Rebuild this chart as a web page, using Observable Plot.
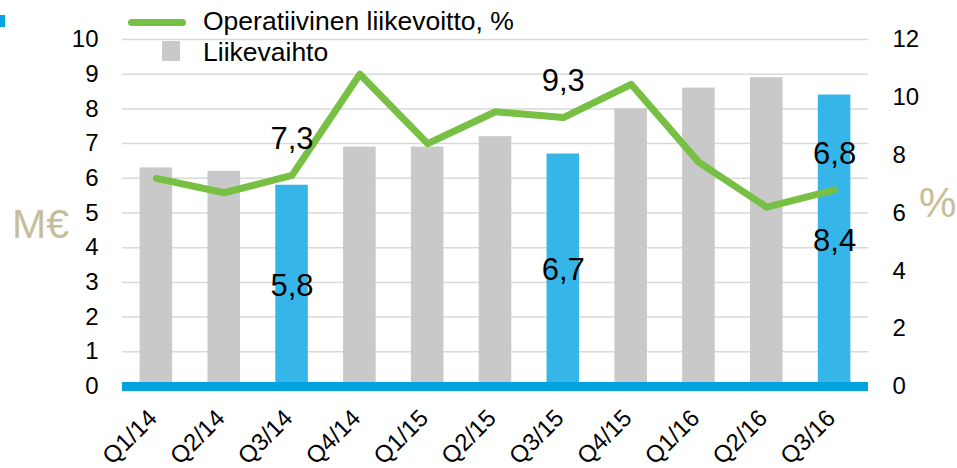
<!DOCTYPE html>
<html><head><meta charset="utf-8">
<script src="https://cdn.jsdelivr.net/npm/d3@7"></script>
<script src="https://cdn.jsdelivr.net/npm/@observablehq/plot@0.6"></script>
<style>
body{margin:0;background:#fff;font-family:"Liberation Sans",Arial,sans-serif;}
#wrap{position:relative;width:957px;height:468px;overflow:hidden;}
#chart{position:absolute;left:0;top:0;}
.abs{position:absolute;white-space:nowrap;line-height:1;}
</style></head><body>
<div id="wrap">
  <div id="chart"></div>
  <div class="abs" style="left:0;top:15px;width:5px;height:12px;background:#00a3e0"></div>
  <div class="abs" style="left:128px;top:19px;width:58px;height:7px;border-radius:4px;background:#77c043"></div>
  <div class="abs" style="left:203px;top:8px;font-size:26.5px;color:#000">Operatiivinen liikevoitto, %</div>
  <div class="abs" style="left:162px;top:41px;width:18px;height:20px;background:#c9c9c9"></div>
  <div class="abs" style="left:203px;top:39px;font-size:26.5px;color:#000">Liikevaihto</div>
  <div class="abs" style="left:12px;top:204px;font-size:41px;color:#c8bd9a">M€</div>
  <div class="abs" style="left:919px;top:182px;font-size:42px;color:#c8bd9a">%</div>
</div>
<script>
const quarters = ["Q1/14","Q2/14","Q3/14","Q4/14","Q1/15","Q2/15","Q3/15","Q4/15","Q1/16","Q2/16","Q3/16"];
const revenue = [6.3, 6.2, 5.8, 6.9, 6.9, 7.2, 6.7, 8.0, 8.6, 8.9, 8.4];
const margin = [7.2, 6.7, 7.3, 10.8, 8.4, 9.5, 9.3, 10.45, 7.75, 6.2, 6.8];
const highlighted = ["Q3/14","Q3/15","Q3/16"];
const leftTicks = [0,1,2,3,4,5,6,7,8,9,10];
const rightTicks = [0,2,4,6,8,10,12];
const leftMax = 10, rightMax = 12;

const data = quarters.map((q,i)=>({q, rev: revenue[i], pct: margin[i], hl: highlighted.includes(q)}));
const toLeft = v => v * leftMax / rightMax;
const fmt = v => String(v).replace(".", ",");
const font = "Liberation Sans, Arial, sans-serif";

const chart = Plot.plot({
  width: 957, height: 468,
  marginLeft: 122, marginRight: 89, marginTop: 39, marginBottom: 82,
  style: {fontFamily: font, background: "transparent", color: "#000"},
  x: {domain: quarters, paddingInner: 0.52, paddingOuter: 0.26, round: false, axis: null},
  y: {domain: [0, leftMax], axis: null},
  marks: [
    Plot.ruleY(leftTicks, {stroke: "#d9d9d9", strokeWidth: 1.5}),
    Plot.barY(data.filter(d => !d.hl), {x: "q", y: "rev", fill: "#c9c9c9"}),
    Plot.barY(data.filter(d => d.hl), {x: "q", y: "rev", fill: "#35b5e8"}),
    Plot.ruleY([0], {stroke: "#00a3e0", strokeWidth: 9}),
    Plot.line(data, {x: "q", y: d => toLeft(d.pct), stroke: "#77c043", strokeWidth: 7, strokeLinecap: "round", strokeLinejoin: "round"}),
    Plot.text(data.filter(d => d.hl), {x: "q", y: d => toLeft(d.pct), text: d => fmt(d.pct), dy: -36, fontSize: 31, fill: "#000"}),
    Plot.text(data.filter(d => d.hl), {x: "q", y: d => d.rev / 2, text: d => fmt(d.rev), fontSize: 31, fill: "#000"}),
    Plot.axisY(leftTicks, {anchor: "left", tickSize: 0, tickPadding: 24, fontSize: 24, label: null}),
    Plot.axisY(rightTicks.map(toLeft), {anchor: "right", tickSize: 0, tickPadding: 24, fontSize: 24, label: null,
      tickFormat: v => String(Math.round(v * rightMax / leftMax))}),
    Plot.text(quarters, {x: d => d, frameAnchor: "bottom", rotate: -45, textAnchor: "end", dy: 33, dx: 2, fontSize: 24, fill: "#000"})
  ]
});
document.getElementById("chart").appendChild(chart);
</script>
</body></html>
